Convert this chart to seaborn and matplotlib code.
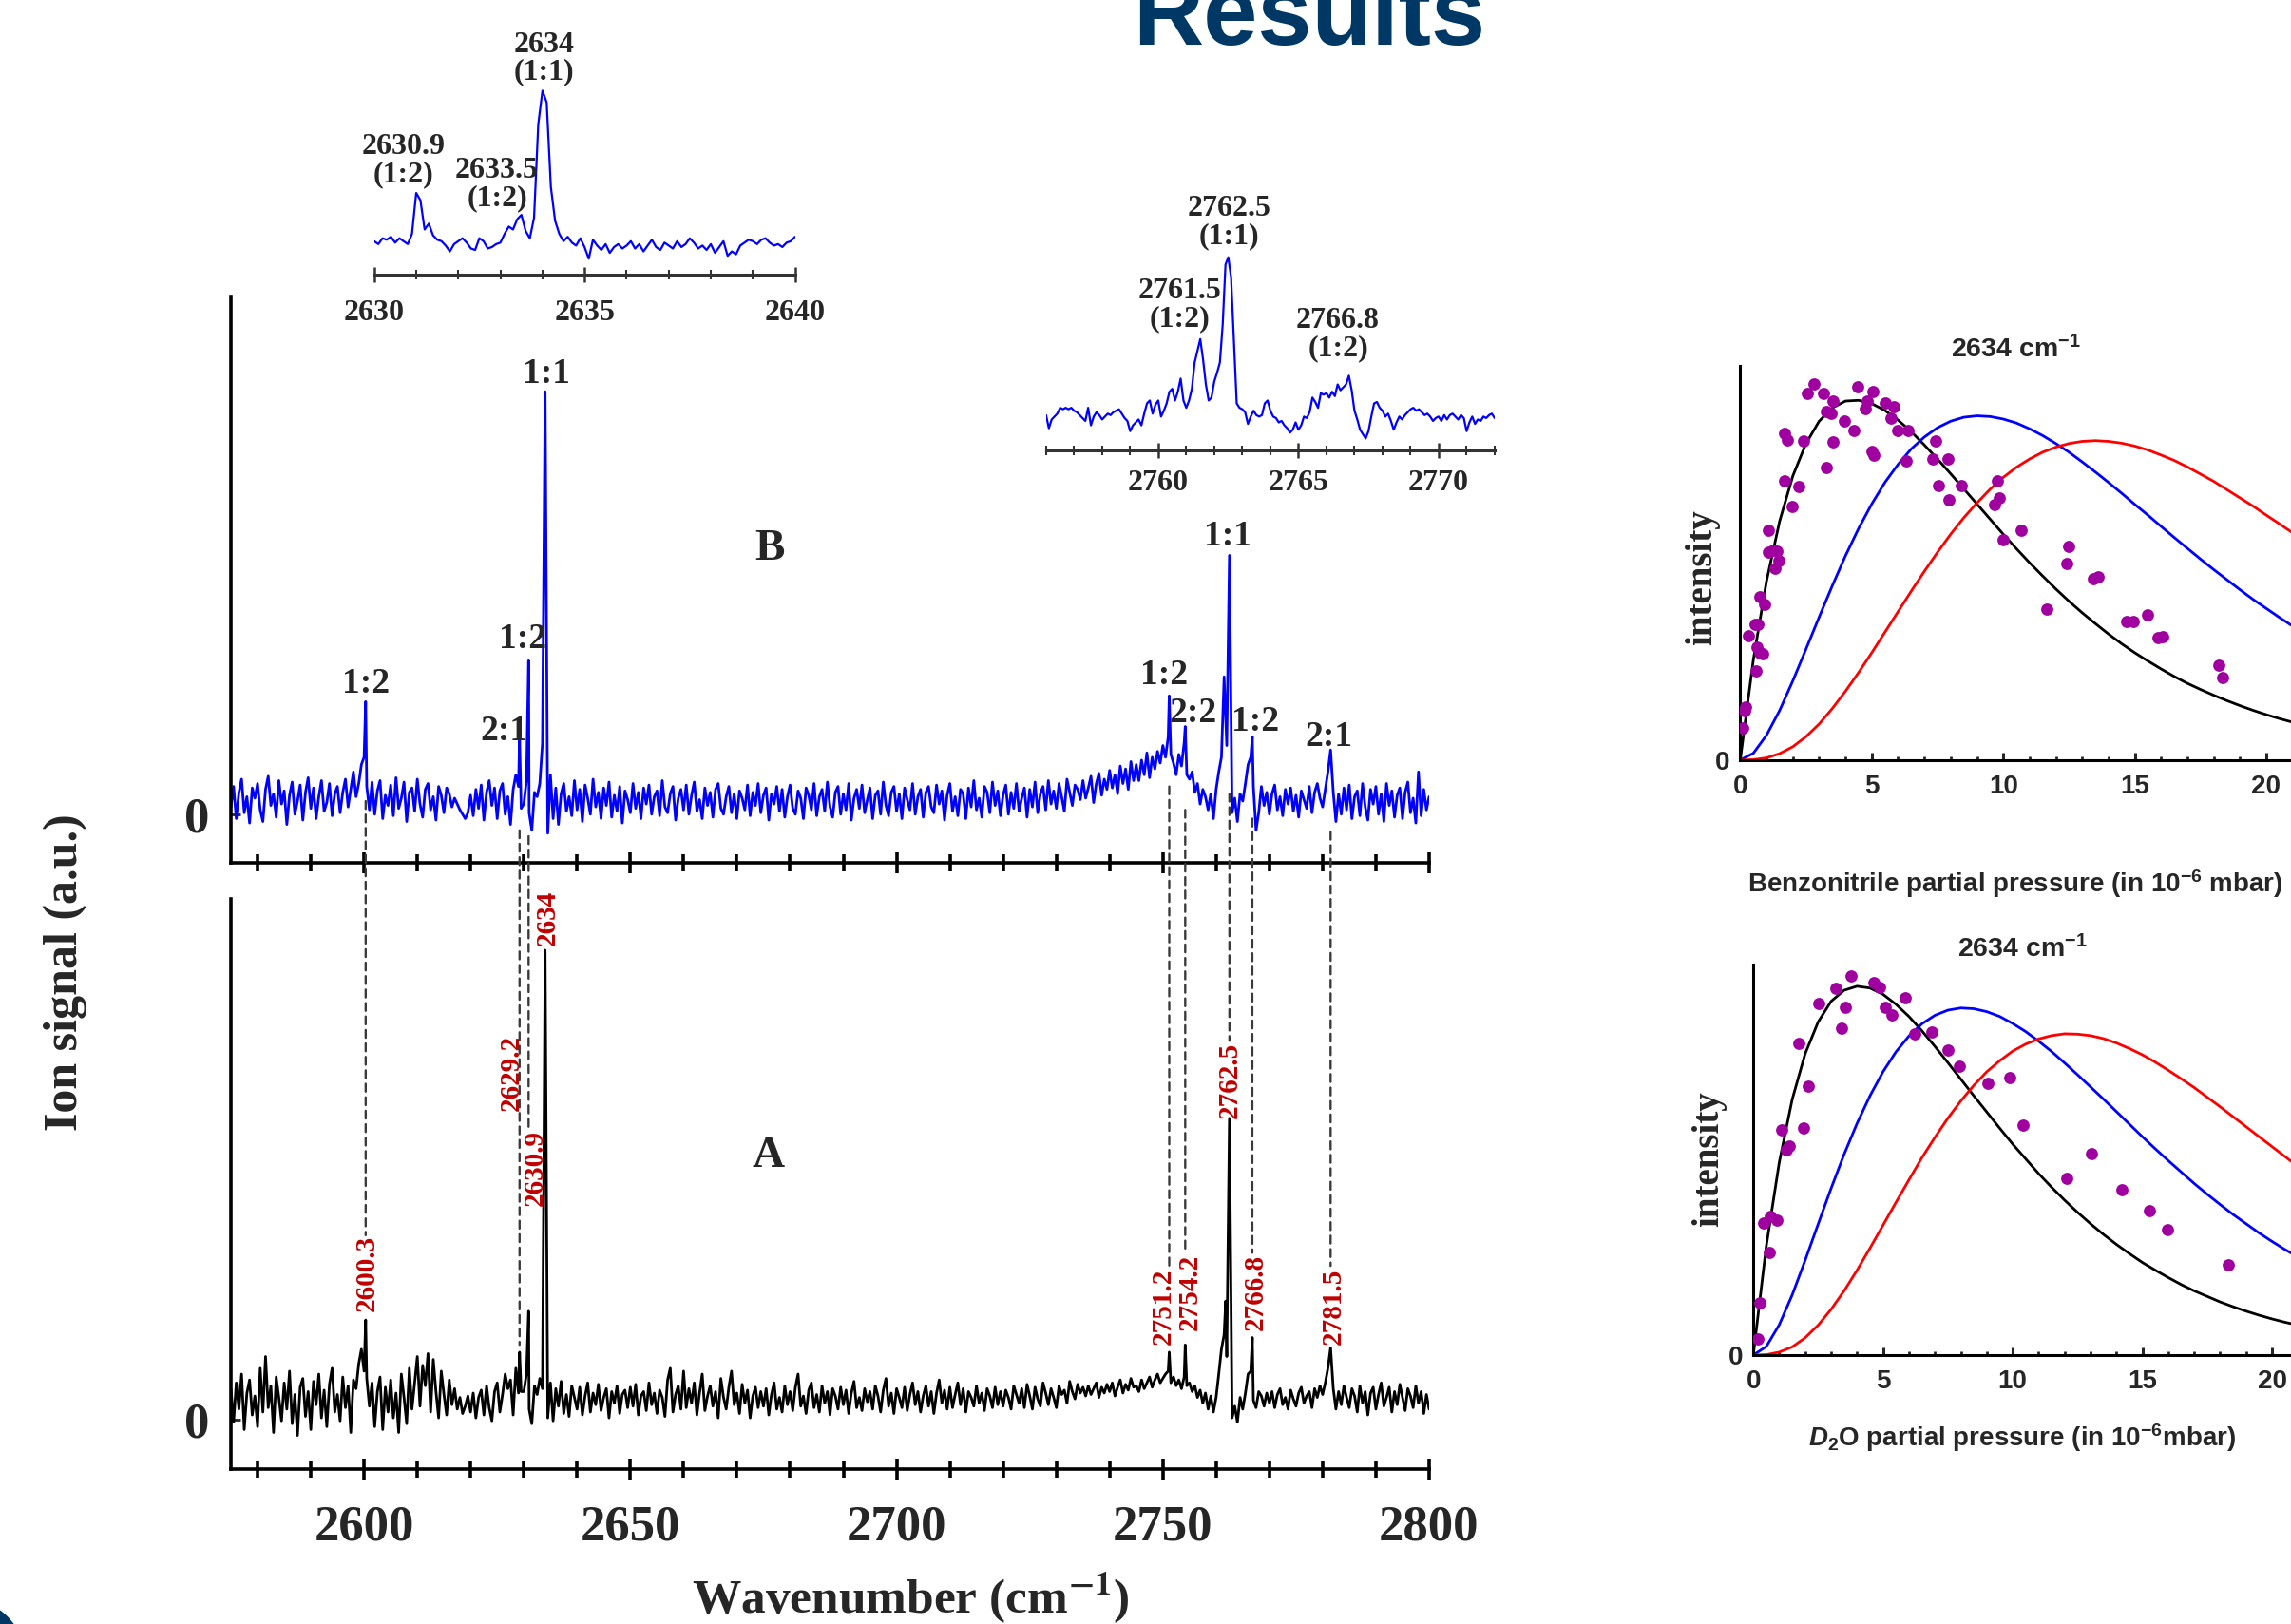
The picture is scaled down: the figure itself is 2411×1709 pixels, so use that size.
"""
plot.py

Recreates the "Results" slide: IR spectra of benzonitrile-D2O clusters
(panel B = size-selected trace, panel A = reference trace, plus two zoomed
insets) and the two pressure-dependence panels on the right.

Output:
    out.png (2411 x 1709 px)
"""

import numpy as np
import pandas as pd
import matplotlib.pyplot as plt
import seaborn as sns
from matplotlib.patches import Circle, ConnectionPatch
from matplotlib.ticker import MultipleLocator

# ---------------------------------------------------------------------------
# DATA — values
# spectra: intensity in arbitrary units above the baseline, every 0.5 cm-1
# ---------------------------------------------------------------------------
SPEC_START = 2575.0
SPEC_STEP = 0.5

B_NOISE = [
    -4, 10, -12, 6, 15, -8, 3, -15, 9, 2,
    12, -6, -14, 8, 17, -3, 5, -11, 14, -2,
    7, -16, 4, 13, -9, 0, 11, -13, 6, 16,
    -5, 9, -12, 3, 14, -7, -1, 12, -10, 5,
    10, -8, 6, 15, -4, 8, 20, 3, 12, 25,
    30, 10, -6, 13, -9, 7, 14, -12, 4, -3,
    11, -10, 16, -5, 2, 13, -14, 6, 9, -7,
    15, -2, -11, 8, 12, -6, 3, -13, 10, 4,
    -8, 9, 5, -4, 2, -2, -6, -9, -12, -8,
    4, -10, 8, -5, 11, -13, 6, 14, -3, 9,
    -12, 7, 12, -9, 3, -16, 8, 18, 10, -5,
    -2, 14, -8, -20, 6, 3, 12, 40, 0, -22,
    18, -12, 9, -16, 5, 12, -7, 3, -10, 14,
    -6, 8, -14, 11, 2, -9, 15, -4, 6, -12,
    9, -3, 13, -11, 4, -7, 10, -15, 7, 1,
    -8, 12, -5, 6, -12, 9, -2, 11, -9, 3,
    7, -10, 14, -4, -8, 5, 10, -13, 2, 8,
    -6, 11, -9, 4, 13, -7, 1, -12, 9, -3,
    6, -11, 8, 12, -5, -9, 3, 10, -8, 5,
    -12, 7, 2, -6, 11, -10, 6, -3, 12, -8,
    4, 9, -13, 5, -2, 10, -7, 8, -11, 3,
    11, -5, -9, 7, 2, -12, 9, 4, -6, 12,
    -10, 3, 8, -7, 13, -4, -11, 6, 10, -9,
    5, -6, 12, -13, 2, 8, -5, 11, -8, 1,
    9, -12, 4, 7, -9, 13, -3, -10, 6, 10,
    -7, 5, -12, 9, 1, -6, 12, -9, 3, 8,
    -11, 6, 10, -4, -8, 11, -2, 7, -13, 4,
    12, -7, 3, -10, 8, 5, -12, 9, -4, 14,
    -6, 2, -11, 10, 6, -8, 13, -3, 7, -10,
    4, 11, -9, 6, -5, 12, -7, 2, 9, -11,
    8, -4, 13, -8, 5, 10, -6, 14, -2, 7,
    -5, 12, 3, -7, 15, 6, -3, 11, 8, 1,
    14, 2, 9, 17, -1, 12, 19, 4, 15, 8,
    21, 9, 18, 5, 24, 12, 22, 8, 27, 14,
    25, 14, 28, 18, 33, 16, 30, 22, 34, 26,
    38, 30, 44, 32, 26, 18, 32, 24, 40, 18,
    15, 20, 6, 12, -2, 8, 3, -6, 5, -12,
    8, 20, 30, 42, 38, 35, -8, 2, -14, 5,
    0, 12, 25, 30, 10, -20, -8, 10, -3, 6,
    -9, 5, 11, -6, 3, -10, 8, -2, 9, -7,
    4, -11, 7, 1, -5, 10, -8, 6, 12, 2,
    -4, 8, 20, 18, 6, -14, 5, -9, 9, -6,
    11, -12, 3, 7, -10, 12, -4, -13, 8, -2,
    10, -9, 5, -14, 12, -3, 7, -11, 4, 9,
    -12, 6, 13, -8, 2, -15, 20, -10, 8, -6,
    3,
]
B_PEAK_X = [2600.3, 2629.2, 2630.9, 2634.0, 2751.2, 2754.2, 2761.5, 2762.5, 2766.8, 2781.5]
B_PEAK_Y = [68, 43, 96, 280, 72, 51, 85, 168, 44, 35]

A_NOISE = [
    8, -15, 12, -6, 18, -20, 5, 14, -10, 3,
    -18, 22, -8, 30, -5, 10, -22, 16, 2, -14,
    12, -6, 20, -16, 4, -24, 9, 15, -11, 6,
    -20, 13, -3, 18, -12, 7, -18, 11, 22, -8,
    4, -14, 16, -5, 10, -22, 14, 8, 25, 35,
    20, 15, -4, 12, -18, 6, 16, -20, 9, -8,
    14, -12, 5, -22, 18, 2, -16, 22, -6, 12,
    30, -4, 24, 10, 32, -8, 28, 6, -12, 20,
    4, -10, 14, -3, 8, -6, 2, -9, -4, 3,
    -8, 5, -12, 2, 7, -10, 10, -5, -14, 6,
    12, -8, 4, 18, 8, 14, -10, 22, 5, 6,
    6, 18, -6, -16, 10, 4, 15, 8, 0, -12,
    12, -14, 8, -4, 13, -9, 4, -11, 10, 2,
    -6, 9, -10, 3, 12, -8, 5, -3, 11, -7,
    2, 8, -12, 6, -2, 10, -9, 4, 7, -5,
    9, -4, 11, -10, 3, 6, -7, 12, -3, 5,
    -9, 7, 2, -11, 14, 22, -8, 4, 10, -6,
    20, -5, 8, -2, 12, -10, 5, 18, -7, 3,
    10, -4, 6, -12, 15, 2, -6, 9, 20, -3,
    5, -9, 11, -2, 7, -12, 3, 9, -5, 6,
    -4, 8, -10, 4, 12, -6, 2, -8, 10, -3,
    6, -7, 9, 18, -4, 3, -9, 7, 12, -5,
    4, -8, 10, -2, 6, -10, 8, 3, -6, 9,
    -3, 7, -9, 5, 13, -5, 2, -7, 8, -1,
    6, -6, 10, 3, -8, 7, 15, -4, 5, -9,
    8, 2, -5, 9, -7, 4, 12, -3, 6, -8,
    3, 10, -4, 6, -9, 5, 14, -2, 7, -6,
    9, -5, 4, 12, -3, 8, -8, 6, 2, -4,
    10, -2, 5, -7, 8, 3, -5, 9, -3, 6,
    -4, 7, 2, -6, 10, 4, -2, 8, -5, 11,
    3, -6, 9, 1, -4, 12, 5, -3, 8, 2,
    -5, 10, 4, 7, -2, 13, 6, 1, 11, 5,
    9, 3, 10, 4, 8, 12, 2, 9, 5, 11,
    6, 12, 3, 9, 14, 5, 11, 7, 15, 9,
    10, 6, 14, 8, 12, 16, 9, 14, 18, 12,
    15, 18, 20, 12, 16, 10, 14, 8, 16, 10,
    12, 6, 10, 2, 7, -2, 5, -6, 3, -8,
    2, 18, 35, 45, 30, 25, -12, -4, -15, 2,
    -6, 5, 18, 20, 0, -5, 6, 3, -4, 5,
    -2, 6, -5, 4, 8, -3, 2, -6, 7, 1,
    -4, 5, 9, -2, 3, 6, -5, 8, 2, 10,
    4, 12, 22, 20, 8, -6, 6, -3, 10, 2,
    -5, 8, 3, -8, 10, -2, 6, -10, 5, 9,
    -6, 4, 12, -4, 2, 9, -8, 6, -3, 11,
    2, -7, 8, 3, -5, 10, -2, 6, -9, 4,
    -6,
]
A_PEAK_X = [2600.3, 2629.2, 2630.9, 2634.0, 2751.2, 2754.2, 2761.8, 2762.5, 2766.8, 2781.5]
A_PEAK_Y = [55, 33, 61, 308, 33, 38, 68, 193, 43, 36]

# inset over 2630-2640 cm-1, every 0.1 cm-1
INSET1_Y = [
    0, -2, 2, 1, 3, -1, 2, 0, -2, 5,
    33, 28, 8, 12, 4, 1, 0, -3, -7, -2,
    0, 2, -1, -5, -6, 2, 0, -5, -4, -2,
    -1, 5, 10, 8, 15, 18, 7, 2, 16, 80,
    103, 95, 37, 14, 5, 0, 3, -1, -3, 2,
    -4, -12, 1, -3, -6, -2, -8, -4, -2, -5,
    -3, 0, -5, -2, -7, -3, 1, -4, -6, -1,
    -3, -5, 0, -4, -2, 2, -1, -5, -3, -6,
    -2, -8, -4, 0, -10, -7, -9, -3, -1, 1,
    0, -2, 1, 2, -1, -3, -2, -4, -1, 0,
    3,
]
# inset over 2756-2772 cm-1, every 0.1 cm-1
INSET2_Y = [
    1, -8, -2, 0, 2, 6, 5, 6, 5, 6,
    4, 3, 1, -1, -3, 6, -6, 0, 3, 1,
    -2, 0, 2, 1, 3, 4, 5, 2, -1, -3,
    -10, -6, -4, -2, -6, 2, 9, 11, 2, 8,
    11, 0, 4, 9, 17, 19, 11, 17, 26, 11,
    6, 11, 19, 37, 45, 53, 39, 22, 11, 13,
    24, 30, 37, 63, 104, 109, 95, 52, 9, 6,
    5, 3, -5, 0, 4, 1, 0, 1, 9, 11,
    4, 0, -1, -4, -3, -6, -8, -11, -9, -4,
    -9, -6, 0, -1, 3, 13, 10, 6, 16, 15,
    16, 13, 17, 14, 22, 18, 20, 22, 28, 18,
    4, -2, -9, -12, -15, -10, 0, 9, 10, 6,
    4, 0, 2, -3, -9, -4, 0, -2, 1, 3,
    5, 6, 4, 5, 3, 1, 2, 0, -3, -1,
    0, -3, 1, -2, 1, 2, 0, -2, 1, -1,
    -10, -4, 0, -5, -2, -3, 0, -1, 1, 2,
    -1,
]

# peak assignments on trace B
B_LABELS = ["1:2", "2:1", "1:2", "1:1", "1:2", "2:2", "1:1", "1:2", "2:1"]
B_LABEL_X = [2600.3, 2626.2, 2629.8, 2634.2, 2750.3, 2755.6, 2762.1, 2767.4, 2781.1]
B_LABEL_Y = [80, 48, 111, 292, 86, 60, 181, 54, 44]

# peak positions on trace A (red labels) + the dashed guide lines
A_LABELS = ["2600.3", "2629.2", "2630.9", "2634", "2751.2", "2754.2", "2762.5", "2766.8", "2781.5"]
LINK_X = [2600.3, 2629.2, 2630.9, 2634.0, 2751.2, 2754.2, 2762.5, 2766.8, 2781.5]

INSET1_LABELS = ["2630.9\n(1:2)", "2633.5\n(1:2)", "2634\n(1:1)"]
INSET2_LABELS = ["2762.5\n(1:1)", "2761.5\n(1:2)", "2766.8\n(1:2)"]

# pressure dependence (kinetic fits + measured points), x every 0.5 (1e-6 mbar)
PRESSURE = np.arange(0, 21.01, 0.5)
BENZ_BLACK = [0, 0.279, 0.497, 0.664, 0.789, 0.879, 0.941, 0.978, 0.997, 0.999, 0.990,
              0.971, 0.944, 0.912, 0.875, 0.836, 0.795, 0.753, 0.711, 0.669, 0.627,
              0.587, 0.548, 0.511, 0.475, 0.441, 0.409, 0.379, 0.350, 0.323, 0.298,
              0.275, 0.253, 0.232, 0.213, 0.196, 0.180, 0.165, 0.151, 0.138, 0.126,
              0.115, 0.105]
BENZ_BLUE = [0, 0.019, 0.069, 0.138, 0.220, 0.308, 0.397, 0.484, 0.567, 0.643, 0.711,
             0.771, 0.821, 0.864, 0.897, 0.923, 0.941, 0.952, 0.956, 0.954, 0.947,
             0.936, 0.920, 0.901, 0.879, 0.855, 0.828, 0.800, 0.771, 0.741, 0.710,
             0.680, 0.649, 0.618, 0.588, 0.558, 0.529, 0.501, 0.473, 0.446, 0.421,
             0.396, 0.372]
BENZ_RED = [0, 0.001, 0.006, 0.018, 0.037, 0.065, 0.100, 0.143, 0.191, 0.243, 0.298,
            0.355, 0.412, 0.469, 0.524, 0.577, 0.627, 0.673, 0.714, 0.752, 0.785,
            0.813, 0.836, 0.855, 0.869, 0.879, 0.885, 0.887, 0.885, 0.880, 0.872,
            0.861, 0.847, 0.832, 0.814, 0.794, 0.774, 0.751, 0.728, 0.705, 0.680,
            0.656, 0.631]
BENZ_PTS_X = [0.08, 0.21, 0.16, 0.32, 0.56, 0.69, 0.73, 0.92, 0.65, 0.73, 0.84, 0.61,
              1.08, 1.08, 1.24, 1.40, 1.45, 1.32, 1.69, 1.81, 1.69, 1.98, 2.23, 2.39,
              2.55, 2.82, 3.15, 3.26, 3.47, 3.52, 3.52, 3.26, 3.95, 4.32, 4.48, 4.76,
              4.81, 5.05, 5.00, 5.08, 5.52, 5.73, 5.84, 5.97, 6.37, 6.32, 7.31, 7.42,
              7.55, 7.90, 7.94, 8.39, 9.76, 9.65, 9.84, 10.00, 10.69, 11.65, 12.42,
              12.50, 13.44, 13.60, 14.68, 14.95, 15.48, 15.89, 16.05, 18.18, 18.34]
BENZ_PTS_Y = [0.089, 0.146, 0.138, 0.344, 0.376, 0.378, 0.454, 0.433, 0.313, 0.297,
              0.294, 0.248, 0.639, 0.577, 0.582, 0.579, 0.555, 0.532, 0.908, 0.889,
              0.775, 0.703, 0.759, 0.887, 1.018, 1.044, 1.018, 0.969, 0.963, 0.997,
              0.884, 0.812, 0.942, 0.916, 1.036, 0.976, 0.997, 1.023, 0.858, 0.846,
              0.992, 0.950, 0.981, 0.915, 0.916, 0.832, 0.835, 0.887, 0.762, 0.835,
              0.723, 0.762, 0.775, 0.710, 0.729, 0.611, 0.639, 0.420, 0.545, 0.593,
              0.503, 0.508, 0.384, 0.386, 0.402, 0.339, 0.342, 0.264, 0.230]

D2O_BLACK = [0, 0.295, 0.522, 0.693, 0.817, 0.903, 0.959, 0.989, 1.000, 0.995, 0.978,
             0.951, 0.918, 0.879, 0.837, 0.793, 0.748, 0.703, 0.659, 0.615, 0.572,
             0.532, 0.492, 0.455, 0.420, 0.387, 0.356, 0.327, 0.300, 0.275, 0.251,
             0.230, 0.210, 0.191, 0.174, 0.159, 0.144, 0.131, 0.119, 0.108, 0.098,
             0.089, 0.081]
D2O_BLUE = [0, 0.023, 0.082, 0.163, 0.257, 0.355, 0.452, 0.544, 0.628, 0.703, 0.768,
            0.822, 0.865, 0.898, 0.921, 0.935, 0.941, 0.939, 0.931, 0.918, 0.899,
            0.877, 0.851, 0.823, 0.792, 0.760, 0.727, 0.694, 0.660, 0.626, 0.592,
            0.559, 0.527, 0.496, 0.465, 0.436, 0.408, 0.381, 0.356, 0.331, 0.308,
            0.286, 0.266]
D2O_RED = [0, 0.001, 0.008, 0.022, 0.047, 0.081, 0.124, 0.174, 0.230, 0.290, 0.352,
           0.414, 0.475, 0.535, 0.590, 0.642, 0.689, 0.731, 0.768, 0.798, 0.824,
           0.843, 0.857, 0.866, 0.871, 0.870, 0.866, 0.858, 0.846, 0.831, 0.814,
           0.794, 0.772, 0.749, 0.725, 0.699, 0.673, 0.646, 0.619, 0.592, 0.565,
           0.538, 0.511]
D2O_PTS_X = [0.16, 0.25, 0.41, 0.66, 0.90, 0.62, 1.10, 1.28, 1.39, 1.77, 2.13, 1.92,
             2.54, 3.20, 3.56, 3.41, 3.77, 4.64, 4.87, 5.08, 5.36, 5.87, 6.23, 6.89,
             7.51, 7.95, 9.05, 9.87, 10.41, 12.10, 13.03, 14.21, 15.28, 15.98, 18.33]
D2O_PTS_Y = [0.045, 0.142, 0.357, 0.377, 0.367, 0.278, 0.611, 0.556, 0.568, 0.844,
             0.730, 0.616, 0.953, 0.995, 0.943, 0.887, 1.028, 1.010, 0.996, 0.943,
             0.922, 0.968, 0.872, 0.876, 0.826, 0.782, 0.737, 0.753, 0.623, 0.480,
             0.546, 0.447, 0.392, 0.341, 0.245]

# ---------------------------------------------------------------------------
# LAYOUT — where things sit (kept apart from the data above)
# ---------------------------------------------------------------------------
SERIF = ["Liberation Serif", "DejaVu Serif"]
SANS = ["Liberation Sans", "DejaVu Sans"]
NAVY = "#003865"
PURPLE = "#a000a0"
LABEL_RED = "#c00000"

B_ZERO, A_ZERO = -9, -13          # where the "0" tick label sits
A_LABEL_DX = [0.2, -1.6, 1.2, 0.5, -1.2, 0.8, 0.1, 0.6, 0.5]
A_LABEL_Y0 = [61, 198, 133, 311, 38, 48, 193, 48, 38]
LINK_START_B = [0, -20, -24, -22, 10, -6, 5, -12, -21]
LINK_END_A = [113, 38, 186, 345, 90, 101, 246, 101, 92]
INSET1_POS = [(2630.69, 55), (2632.92, 39), (2634.03, 125)]
INSET2_POS = [(2762.53, 133), (2760.77, 76), (2766.41, 56)]

sns.set_style("ticks")
plt.rcParams["font.family"] = SERIF
plt.rcParams["font.weight"] = "bold"
plt.rcParams["mathtext.fontset"] = "custom"
plt.rcParams["mathtext.rm"] = "Liberation Sans:bold"
plt.rcParams["mathtext.bf"] = "Liberation Sans:bold"
plt.rcParams["mathtext.it"] = "Liberation Sans:italic:bold"


def build_trace(noise, start, step, peak_x=(), peak_y=()):
    base = pd.DataFrame({"x": start + step * np.arange(len(noise)), "y": noise})
    peaks = pd.DataFrame({"x": list(peak_x), "y": list(peak_y)})
    base = base[~base["x"].isin(peaks["x"])]
    return pd.concat([base, peaks]).sort_values("x").reset_index(drop=True)


def style_spectrum_axis(ax, zero, show_labels):
    ax.set_xlim(2575, 2800)
    ax.xaxis.set_major_locator(MultipleLocator(50))
    ax.xaxis.set_minor_locator(MultipleLocator(10))
    ax.tick_params(axis="x", which="both", direction="inout", width=2.6,
                   color="black", bottom=True)
    ax.tick_params(axis="x", which="major", length=16, pad=19, labelsize=38,
                   labelbottom=show_labels)
    ax.tick_params(axis="x", which="minor", length=13)
    ax.set_yticks([zero])
    ax.set_yticklabels(["0"])
    ax.tick_params(axis="y", direction="in", length=7, width=2, pad=16,
                   labelsize=38, left=True)
    sns.despine(ax=ax)
    for side in ("left", "bottom"):
        ax.spines[side].set_linewidth(2.6)
        ax.spines[side].set_color("black")
    ax.set_xlabel("")
    ax.set_ylabel("")
    ax.patch.set_alpha(0)


def style_inset(ax, lo, hi, ylim, pad):
    ax.set_xlim(lo, hi)
    ax.set_ylim(*ylim)
    ax.xaxis.set_major_locator(MultipleLocator(5))
    ax.xaxis.set_minor_locator(MultipleLocator(1))
    ax.tick_params(axis="x", which="major", direction="inout", length=11, width=1.8,
                   pad=pad, labelsize=23, bottom=True, color="#333333")
    ax.tick_params(axis="x", which="minor", direction="inout", length=7, width=1.5,
                   bottom=True, color="#333333")
    ax.set_yticks([])
    sns.despine(ax=ax, left=True)
    ax.spines["bottom"].set_linewidth(2.2)
    ax.spines["bottom"].set_color("#333333")
    ax.set_xlabel("")
    ax.set_ylabel("")
    ax.patch.set_alpha(0)


def style_pressure_axis(ax, xmax, ymax, xlabel, labelpad, ylab_x, ylab_y):
    ax.set_xlim(0, xmax)
    ax.set_ylim(0, ymax)
    ax.set_xticks([0, 5, 10, 15, 20])
    ax.set_xticklabels(["0", "5", "10", "15", "20"], fontfamily=SANS,
                       fontweight="bold", fontsize=20)
    ax.xaxis.set_minor_locator(MultipleLocator(1))
    ax.tick_params(axis="x", which="major", direction="in", length=6, width=2.2,
                   pad=11, bottom=True)
    ax.tick_params(axis="x", which="minor", direction="in", length=3, width=2,
                   bottom=True)
    ax.set_yticks([0])
    ax.set_yticklabels(["0"], fontfamily=SANS, fontweight="bold", fontsize=20)
    ax.tick_params(axis="y", length=0, pad=8)
    sns.despine(ax=ax)
    for side in ("left", "bottom"):
        ax.spines[side].set_linewidth(2.2)
        ax.spines[side].set_color("black")
    ax.set_title("2634 cm$^{-1}$", fontfamily=SANS, fontweight="bold",
                 fontsize=20.5, pad=6)
    ax.set_xlabel(xlabel, fontfamily=SANS, fontweight="bold", fontsize=20,
                  labelpad=labelpad)
    ax.set_ylabel("intensity", fontsize=28, fontweight="bold")
    ax.yaxis.set_label_coords(ylab_x, ylab_y)


def draw_pressure_panel(ax, black, blue, red, pts_x, pts_y):
    for curve, color in ((black, "black"), (blue, "#0000ff"), (red, "#ff0000")):
        sns.lineplot(x=PRESSURE, y=curve, ax=ax, color=color, lw=2.0, legend=False)
    sns.scatterplot(x=pts_x, y=pts_y, ax=ax, color=PURPLE, s=85, linewidth=0,
                    zorder=3, legend=False)


def main():
    fig = plt.figure(figsize=(24.11, 17.09), dpi=100, facecolor="white")

    ax_b = fig.add_axes([0.1008, 0.4689, 0.5230, 0.3485])
    ax_a = fig.add_axes([0.1008, 0.0954, 0.5230, 0.3510])
    ins1 = fig.add_axes([0.1633, 0.8308, 0.1837, 0.1242])
    ins2 = fig.add_axes([0.4566, 0.7228, 0.1958, 0.1512])
    ax_r1 = fig.add_axes([0.7596, 0.5320, 0.2404, 0.2430])
    ax_r2 = fig.add_axes([0.7653, 0.1656, 0.2347, 0.2403])

    # --- main spectra -------------------------------------------------------
    trace_b = build_trace(B_NOISE, SPEC_START, SPEC_STEP, B_PEAK_X, B_PEAK_Y)
    trace_a = build_trace(A_NOISE, SPEC_START, SPEC_STEP, A_PEAK_X, A_PEAK_Y)
    sns.lineplot(data=trace_b, x="x", y="y", ax=ax_b, color="#0000ff", lw=2.0,
                 estimator=None, sort=False, legend=False)
    sns.lineplot(data=trace_a, x="x", y="y", ax=ax_a, color="black", lw=2.0,
                 estimator=None, sort=False, legend=False)
    ax_b.set_ylim(-42, 345)
    ax_a.set_ylim(-47, 343)
    style_spectrum_axis(ax_b, B_ZERO, show_labels=False)
    style_spectrum_axis(ax_a, A_ZERO, show_labels=True)

    for text, x, y in zip(B_LABELS, B_LABEL_X, B_LABEL_Y):
        ax_b.text(x, y, text, ha="center", va="center", fontsize=27, fontweight="bold")
    ax_b.text(2676.2, 172, "B", ha="center", va="center", fontsize=34, fontweight="bold")
    ax_a.text(2675.9, 167, "A", ha="center", va="center", fontsize=34, fontweight="bold")

    for text, x, dx, y0 in zip(A_LABELS, LINK_X, A_LABEL_DX, A_LABEL_Y0):
        ax_a.text(x + dx, y0, text, rotation=90, ha="center", va="bottom",
                  fontsize=21, fontweight="bold", color=LABEL_RED)

    # dashed guides linking the peaks of both traces
    for x, yb, ya in zip(LINK_X, LINK_START_B, LINK_END_A):
        con = ConnectionPatch(xyA=(x, yb), xyB=(x, ya), coordsA="data", coordsB="data",
                              axesA=ax_b, axesB=ax_a, color="#3a3a3a", lw=1.7,
                              linestyle=(0, (3.5, 2.5)))
        fig.add_artist(con)

    # --- insets -------------------------------------------------------------
    inset1 = build_trace(INSET1_Y, 2630.0, 0.1)
    inset2 = build_trace(INSET2_Y, 2756.0, 0.1)
    sns.lineplot(data=inset1, x="x", y="y", ax=ins1, color="#0000ff", lw=1.6,
                 estimator=None, sort=False, legend=False)
    sns.lineplot(data=inset2, x="x", y="y", ax=ins2, color="#0000ff", lw=1.6,
                 estimator=None, sort=False, legend=False)
    style_inset(ins1, 2630, 2640, (-23, 115), pad=13)
    style_inset(ins2, 2756, 2772, (-23, 145), pad=9)
    for text, (x, y) in zip(INSET1_LABELS, INSET1_POS):
        ins1.text(x, y, text, ha="center", va="center", fontsize=23,
                  fontweight="bold", linespacing=1.0)
    for text, (x, y) in zip(INSET2_LABELS, INSET2_POS):
        ins2.text(x, y, text, ha="center", va="center", fontsize=23,
                  fontweight="bold", linespacing=1.0)

    # --- pressure dependence ------------------------------------------------
    draw_pressure_panel(ax_r1, BENZ_BLACK, BENZ_BLUE, BENZ_RED, BENZ_PTS_X, BENZ_PTS_Y)
    draw_pressure_panel(ax_r2, D2O_BLACK, D2O_BLUE, D2O_RED, D2O_PTS_X, D2O_PTS_Y)
    style_pressure_axis(ax_r1, 20.94, 1.096,
                        "Benzonitrile partial pressure (in 10$^{-6}$ mbar)",
                        52, -0.037, 0.463)
    style_pressure_axis(ax_r2, 20.73, 1.058,
                        "$D_{2}$O partial pressure (in 10$^{-6}$mbar)",
                        21, -0.049, 0.502)

    # --- figure-level text --------------------------------------------------
    fig.text(0.0287, 0.4014, "Ion signal (a.u.)", rotation=90, ha="center",
             va="center", fontsize=36, fontweight="bold")
    fig.text(0.3973, 0.0162, r"Wavenumber (cm$^{\mathbf{-1}}$)", ha="center",
             va="center", fontsize=37, fontweight="bold", math_fontfamily="stix")
    # slide title runs off the top edge, as on the original slide
    fig.text(0.5716, 0.9725, "Results", ha="center", va="baseline", fontsize=74,
             fontfamily=SANS, fontweight="bold", color=NAVY)
    fig.add_artist(Circle((-0.35, -0.35), 0.6, transform=fig.dpi_scale_trans,
                          color=NAVY))

    fig.savefig("out.png", dpi=100, facecolor="white")
    plt.close(fig)


if __name__ == "__main__":
    main()
